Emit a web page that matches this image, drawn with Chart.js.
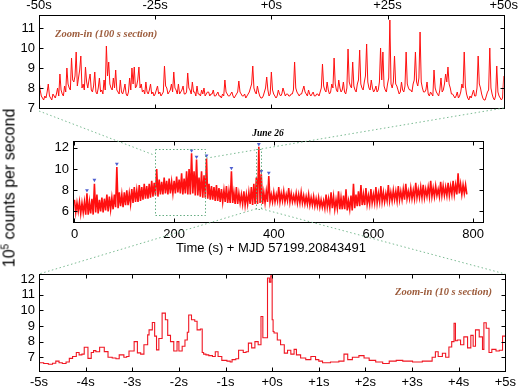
<!DOCTYPE html>
<html><head><meta charset="utf-8">
<script src="https://cdn.jsdelivr.net/npm/chart.js@4.4.1/dist/chart.umd.min.js"></script>
<style>
html,body{margin:0;padding:0;background:#fff;}
#wrap{position:relative;width:520px;height:388px;overflow:hidden;background:#fff;}
canvas{position:absolute;left:0;top:0;}
.t{position:absolute;white-space:nowrap;line-height:1;}
.ser{font-family:'Liberation Serif','Times New Roman',serif;font-weight:bold;font-style:italic;}
.brown{color:#9c5b3b;}
</style></head><body>
<div id="wrap">
<canvas id="cTop" width="520" height="388"></canvas>
<canvas id="cMid" width="520" height="388"></canvas>
<canvas id="cBot" width="520" height="388"></canvas>
<canvas id="cOver" width="520" height="388"></canvas>
<div class="t ser brown" style="left:55px;top:34px;transform:translateY(-50%);font-size:10.5px;">Zoom-in (100 s section)</div>
<div class="t ser" style="left:268px;top:134px;transform:translate(-50%,-50%);font-size:9.5px;">June 26</div>
<div class="t" style="left:271px;top:247px;transform:translate(-50%,-50%);font-family:'Liberation Sans',Arial,sans-serif;font-size:13px;">Time (s) + MJD 57199.20843491</div>
<div class="t ser brown" style="left:395px;top:292px;transform:translateY(-50%);font-size:10.5px;">Zoom-in (10 s section)</div>
<div class="t" style="left:9px;top:188px;transform:translate(-50%,-50%) rotate(-90deg);font-family:'Liberation Sans',Arial,sans-serif;font-size:16px;">10<sup style="font-size:10px;vertical-align:6px;">5</sup> counts per second</div>
</div>
<script>
// ---------- Top panel: 100 s zoom (0.25 s samples from -50 s to +50 s) ----------
const topVals = [
8.4,7.9,7.6,7.5,7.4,7.6,7.5,7.8,8.2,7.6,7.5,7.4,7.7,7.6,7.5,7.7,8.0,7.6,8.7,7.9,
7.7,7.6,8.1,7.8,9.0,8.2,8.0,7.9,9.5,8.4,8.3,8.6,9.8,8.1,8.5,8.9,9.6,8.0,8.2,7.9,
9.05,8.3,8.0,8.4,8.7,7.9,7.8,8.1,8.8,7.8,7.7,8.0,8.5,7.8,7.9,7.7,8.4,7.9,10.1,8.6,
9.3,8.2,8.0,7.9,8.5,8.0,8.9,7.9,7.8,7.7,8.4,7.8,7.7,7.9,8.2,7.7,7.6,7.8,8.5,7.9,
9.0,8.2,9.05,8.0,8.1,8.4,9.05,8.0,8.2,7.8,7.9,7.7,8.3,7.8,7.7,7.9,8.2,7.7,7.8,7.6,
7.7,7.9,8.1,7.7,7.8,7.6,7.7,7.8,9.1,8.1,8.0,7.7,7.8,7.9,8.2,7.8,8.8,8.0,7.9,7.7,
8.2,7.7,7.8,7.9,8.1,7.7,7.7,7.8,8.75,8.0,7.9,7.7,8.3,7.8,7.8,7.6,8.1,7.7,7.7,7.6,
7.9,7.7,8.0,7.6,7.7,7.8,7.8,7.6,7.7,7.7,7.9,7.6,7.6,7.7,7.8,7.6,7.6,7.5,7.7,7.6,
8.4,7.8,7.7,7.6,7.6,7.7,7.8,7.6,7.5,7.6,7.7,7.8,8.35,7.8,7.7,7.6,7.6,7.7,7.5,7.6,
7.7,7.8,8.0,8.2,9.1,8.0,7.8,7.7,8.1,7.8,7.6,7.5,7.5,7.6,7.8,8.0,8.55,7.9,7.6,7.7,
8.8,7.9,7.7,7.6,7.5,7.6,7.9,7.7,7.6,7.7,8.0,7.8,7.6,7.7,7.7,7.6,7.6,7.7,7.7,7.9,
9.3,8.0,7.8,7.7,7.6,7.7,7.7,7.9,8.1,7.8,7.7,7.6,7.9,7.7,7.6,7.7,7.8,7.6,7.6,7.7,
7.7,7.6,7.8,8.0,9.2,8.1,7.9,7.8,8.3,7.9,7.7,7.8,8.2,8.0,9.5,8.2,7.9,7.8,8.4,8.0,
7.8,7.9,8.3,7.8,7.7,8.0,9.95,8.3,8.1,8.0,9.3,8.1,7.9,7.8,8.2,8.4,9.9,8.2,8.0,7.9,
8.3,8.6,10.2,8.3,8.0,7.9,8.4,8.0,7.8,7.9,8.1,7.8,7.9,8.3,10.0,8.4,9.8,8.1,7.9,7.8,
8.2,8.5,11.4,8.2,8.0,8.3,9.6,8.2,8.1,7.9,7.7,7.8,8.3,7.9,7.8,8.1,9.8,8.2,8.0,7.9,
7.9,7.8,8.2,8.4,9.8,8.3,8.1,8.5,10.8,8.3,8.0,7.8,7.8,7.9,8.3,7.7,7.6,7.8,7.7,7.6,
8.9,8.0,7.8,7.7,7.6,7.9,8.5,7.8,7.9,8.2,8.7,8.3,9.05,8.2,8.0,7.7,7.7,7.6,7.5,7.6,
7.8,7.5,7.6,7.8,8.2,8.0,9.8,8.1,7.7,7.5,7.4,7.6,7.5,7.7,7.9,7.6,7.6,8.0,9.6,8.2,
8.0,7.7,7.5,7.4,7.4,7.6,7.8,7.9,10.0,8.0,7.7,7.5,7.4,7.6,9.1,7.8,7.6,7.5,7.4,7.5,8.6];
const topStart = -50, topStep = 0.25;
const topTickVals = [-50,-25,0,25,50];
const topTickLabels = ['-50s','-25s','+0s','+25s','+50s'];
const topYTicks = [7,8,9,10,11];

// ---------- Middle panel: full light curve, min/max per 5 s bin ----------
const midStart = 0, midStep = 5;
const midLo = [
5.9,6.0,5.8,5.9,5.7,5.7,
5.8,5.7,5.9,5.8,6.0,5.9,
6.1,6.0,6.2,6.2,6.4,6.3,6.5,6.4,
6.6,6.6,6.7,6.8,6.9,6.9,7.0,7.1,7.2,7.2,
7.3,7.4,7.5,7.4,7.6,7.6,7.7,7.6,7.7,7.7,
7.7,7.8,7.7,7.6,7.7,7.6,7.6,7.7,7.5,7.5,
7.4,7.3,7.3,7.2,7.1,7.1,7.0,7.0,6.9,6.9,
6.9,6.8,6.8,6.8,6.7,6.7,6.8,6.7,6.6,6.7,
6.7,6.6,6.7,6.7,6.8,6.7,6.8,6.9,6.9,6.9,
6.9,7.0,6.9,7.0,6.9,7.0,6.9,6.9,6.9,6.8,
6.8,6.8,6.7,6.7,6.6,6.6,6.5,6.5,6.4,6.4,
6.3,6.4,6.3,6.3,6.2,6.3,6.2,6.2,6.2,6.1,
6.2,6.1,6.3,6.5,6.5,6.6,6.6,6.7,6.7,6.8,
6.8,6.8,6.9,6.9,6.9,7.0,7.0,7.0,7.1,7.0,
7.1,7.1,7.1,7.2,7.2,7.2,7.2,7.3,7.3,7.3,
7.3,7.4,7.4,7.4,7.4,7.5,7.4,7.5,7.5,7.5,
7.5,7.6,7.6,7.6,7.7,7.6,7.7,7.6];
const midHi = [
7.1,6.8,6.9,6.8,6.9,7.7,
6.9,7.2,8.6,7.6,7.1,7.3,
7.2,7.6,7.4,7.3,7.6,10.2,7.8,7.6,
7.8,8.0,7.7,8.1,8.3,8.0,8.5,8.3,8.6,8.4,
8.6,8.9,8.7,10.0,9.0,8.8,9.2,8.9,9.1,8.8,
8.9,9.3,9.0,9.6,9.1,9.8,10.0,11.5,9.8,10.9,
9.2,9.8,9.4,11.0,8.6,8.4,8.3,8.5,8.2,8.1,
8.0,8.4,7.9,9.8,7.8,8.3,7.7,7.6,7.9,7.6,
7.8,8.3,8.6,9.2,12.1,9.5,7.8,7.9,9.35,7.6,
7.8,7.6,8.3,7.7,7.9,7.6,8.2,7.7,7.5,7.7,
7.6,7.8,7.5,7.4,7.6,7.3,7.4,7.2,7.3,7.1,
7.0,7.6,7.2,7.8,7.4,7.1,7.9,7.3,7.5,8.1,
7.0,7.5,8.6,7.6,7.9,8.5,7.6,8.2,7.5,8.1,
7.6,8.3,7.7,8.4,7.8,7.7,8.5,7.8,8.0,7.9,
8.4,7.9,8.1,8.6,7.9,8.2,8.0,8.7,8.1,8.3,
8.5,8.1,8.3,8.9,8.2,8.4,8.1,8.8,8.4,8.3,
8.7,8.4,8.9,8.5,9.6,8.6,8.5,8.5];
const markT = [25,40,85,235,245,265,315,370,375,390];
const markV = [8.0,8.97,10.5,11.75,11.15,11.27,10.1,12.35,9.8,9.65];
const midXTicks = [0,200,400,600,800];
const midYTicks = [6,8,10,12];
const box100X = [161,261], box100Y = [5.7,11.9];
const box10X = [365,375], box10Y = [6.25,11.9];

// ---------- Bottom panel: 10 s zoom ----------
const botT = [-5.0,-4.9,-4.8,-4.71,-4.64,-4.57,-4.5,-4.42,-4.35,-4.28,-4.2,-4.14,-4.08,-4.03,-3.95,-3.88,-3.83,-3.78,-3.7,-3.6,-3.52,-3.43,-3.35,-3.28,-3.18,-3.12,-3.07,-2.96,-2.89,-2.82,-2.75,-2.67,-2.64,-2.57,-2.52,-2.48,-2.43,-2.36,-2.29,-2.24,-2.18,-2.11,-2.04,-2.0,-1.93,-1.87,-1.82,-1.79,-1.73,-1.66,-1.61,-1.54,-1.5,-1.47,-1.42,-1.36,-1.28,-1.22,-1.16,-1.08,-0.97,-0.9,-0.86,-0.78,-0.72,-0.62,-0.56,-0.51,-0.44,-0.37,-0.3,-0.24,-0.2,-0.15,-0.1,-0.06,-0.03,0.0,0.02,0.04,0.11,0.18,0.26,0.33,0.4,0.47,0.52,0.61,0.72,0.83,0.93,1.0,1.08,1.25,1.43,1.54,1.62,1.72,1.86,1.97,2.08,2.22,2.37,2.51,2.66,2.8,3.01,3.22,3.43,3.5,3.56,3.65,3.72,3.79,3.85,3.9,3.93,3.97,4.04,4.11,4.19,4.26,4.31,4.36,4.44,4.51,4.54,4.59,4.65,4.71,4.8,4.87,4.94,5.0];
const botV = [6.72,6.65,6.6,6.55,6.62,6.75,6.65,6.6,6.7,6.93,7.05,7.3,7.15,7.2,7.64,6.93,7.3,7.42,7.35,7.64,7.36,7.0,6.95,6.9,7.15,7.0,7.05,7.4,8.0,7.28,7.2,7.8,8.43,8.75,9.22,8.35,7.47,8.2,9.82,9.4,8.4,8.0,7.4,8.0,7.4,7.7,8.1,8.6,9.7,9.4,9.3,8.75,8.8,7.3,7.2,7.15,7.1,7.05,7.35,7.05,6.8,6.75,6.7,6.85,6.9,7.45,7.3,7.35,7.9,7.6,8.0,7.8,9.6,8.25,8.25,12.06,11.8,12.2,9.4,8.64,8.55,8.1,7.8,7.26,7.45,7.2,7.5,7.15,6.95,6.85,7.05,6.85,6.75,6.65,6.7,6.75,7.2,6.85,7.0,7.1,6.95,6.8,6.7,6.6,6.75,6.8,6.75,6.7,6.75,7.0,7.35,7.05,7.25,7.0,7.65,8.0,9.17,8.05,8.1,7.8,8.3,7.6,8.4,7.7,8.75,8.3,7.5,9.2,8.85,7.3,7.5,7.4,7.45,8.35];
const botTickVals = [-5,-4,-3,-2,-1,0,1,2,3,4,5];
const botTickLabels = ['-5s','-4s','-3s','-2s','-1s','+0s','+1s','+2s','+3s','+4s','+5s'];
const botYTicks = [7,8,9,10,11,12];

// ---------- helpers ----------
const FF = "'Liberation Sans', Arial, Helvetica, sans-serif";
const RED = '#ff1010';
function xAxis(min,max,vals,labels,pos,h,pad){
  return {type:'linear',position:pos,min:min,max:max,
    afterBuildTicks:s=>{s.ticks=vals.map(v=>({value:v}));},
    afterFit:s=>{s.height=h;},
    grid:{display:false,drawTicks:false},border:{display:false},
    ticks:{autoSkip:false,maxRotation:0,minRotation:0,padding:pad,color:'#000',font:{family:FF,size:13},
      callback:(v,i)=>labels?labels[i]:String(v)}};
}
function yAxis(min,max,vals,w){
  return {type:'linear',position:'left',min:min,max:max,
    afterBuildTicks:s=>{s.ticks=vals.map(v=>({value:v}));},
    afterFit:s=>{s.width=w;},
    grid:{display:false,drawTicks:false},border:{display:false},
    ticks:{padding:4,color:'#000',font:{family:FF,size:13},callback:v=>String(v)}};
}
const frame = {id:'frame',afterDraw(chart,args,opts){
  const ctx=chart.ctx,a=chart.chartArea,sx=chart.scales.x,sy=chart.scales.y;
  ctx.save();
  if(opts.boxes){
    ctx.strokeStyle='rgba(95,170,125,0.95)';ctx.lineWidth=1;ctx.setLineDash([1.5,2]);
    opts.boxes.forEach(b=>{
      const x0=sx.getPixelForValue(b.x[0]),x1=sx.getPixelForValue(b.x[1]);
      const y0=sy.getPixelForValue(b.y[1]),y1=sy.getPixelForValue(b.y[0]);
      ctx.strokeRect(Math.round(x0)+0.5,Math.round(y0)+0.5,Math.round(x1-x0),Math.round(y1-y0));
    });
    ctx.setLineDash([]);
  }
  ctx.strokeStyle='#000';ctx.lineWidth=1;
  const L=Math.round(a.left)+0.5,R=Math.round(a.right)+0.5,T=Math.round(a.top)+0.5,B=Math.round(a.bottom)+0.5;
  ctx.strokeRect(L,T,R-L,B-T);
  ctx.beginPath();
  sx.ticks.forEach(t=>{const p=Math.round(sx.getPixelForValue(t.value))+0.5;ctx.moveTo(p,T);ctx.lineTo(p,T+4);ctx.moveTo(p,B);ctx.lineTo(p,B-4);});
  sy.ticks.forEach(t=>{const p=Math.round(sy.getPixelForValue(t.value))+0.5;ctx.moveTo(L,p);ctx.lineTo(L+4,p);ctx.moveTo(R,p);ctx.lineTo(R-4,p);});
  ctx.stroke();
  ctx.restore();
}};
const base = {responsive:false,animation:false,devicePixelRatio:1,events:[],
  plugins:{legend:{display:false},tooltip:{enabled:false}}};

// ---------- build data ----------
const topData = topVals.map((v,i)=>({x:topStart+topStep*i,y:v}));
const midData = [];
midLo.forEach((lo,i)=>{const t=midStart+midStep*i; midData.push({x:t,y:midHi[i]}); midData.push({x:t+midStep/2,y:lo});});
const markData = markT.map((t,i)=>({x:t,y:markV[i]}));
const botData = botT.map((t,i)=>({x:t,y:botV[i]}));

const chartTop = new Chart(document.getElementById('cTop'),{type:'line',
  data:{datasets:[{data:topData,borderColor:RED,borderWidth:1,pointRadius:0,tension:0}]},
  options:Object.assign({},base,{layout:{padding:{left:9,right:13,top:0,bottom:280}},
    scales:{x:xAxis(-50,50,topTickVals,topTickLabels,'top',15,2),y:yAxis(7,11.65,topYTicks,30)}}),
  plugins:[frame]});

const chartMid = new Chart(document.getElementById('cMid'),{type:'line',
  data:{datasets:[
    {data:midData,borderColor:RED,borderWidth:1.6,pointRadius:0,tension:0},
    {type:'scatter',data:markData,pointStyle:'triangle',rotation:180,pointRadius:2.2,backgroundColor:'#4f5fd0',borderColor:'#4f5fd0',borderWidth:0,showLine:false}
  ]},
  options:Object.assign({},base,{layout:{padding:{left:41,right:37,top:141,bottom:146}},
    plugins:{legend:{display:false},tooltip:{enabled:false},frame:{boxes:[{x:box100X,y:box100Y},{x:box10X,y:box10Y}]}},
    scales:{x:xAxis(-3,820,midXTicks,null,'bottom',20,5),y:yAxis(5,12.65,midYTicks,32)}}),
  plugins:[frame]});

const chartBot = new Chart(document.getElementById('cBot'),{type:'line',
  data:{datasets:[{data:botData,borderColor:'#f01622',borderWidth:1.1,pointRadius:0,stepped:'after'}]},
  options:Object.assign({},base,{layout:{padding:{left:9,right:13,top:274,bottom:0}},
    scales:{x:xAxis(-5,5,botTickVals,botTickLabels,'bottom',17,4),y:yAxis(6.12,12.32,botYTicks,30)}}),
  plugins:[frame]});

// ---------- connector lines ----------
(function(){
  const ctx=document.getElementById('cOver').getContext('2d');
  const tA=chartTop.chartArea,bA=chartBot.chartArea,mx=chartMid.scales.x,my=chartMid.scales.y;
  ctx.strokeStyle='rgba(110,180,135,0.9)';ctx.lineWidth=1;ctx.setLineDash([1.5,2.5]);
  function ln(a,b,c,d){ctx.beginPath();ctx.moveTo(a,b);ctx.lineTo(c,d);ctx.stroke();}
  ln(tA.left,tA.bottom+3,mx.getPixelForValue(box100X[0]),my.getPixelForValue(11.3));
  ln(tA.right,tA.bottom,mx.getPixelForValue(box100X[1]),my.getPixelForValue(11.0));
  ln(mx.getPixelForValue(box10X[0]),my.getPixelForValue(box10Y[0]),bA.left,bA.top);
  ln(mx.getPixelForValue(box10X[1]),my.getPixelForValue(box10Y[0]),bA.right,bA.top);
})();
</script>
</body></html>
